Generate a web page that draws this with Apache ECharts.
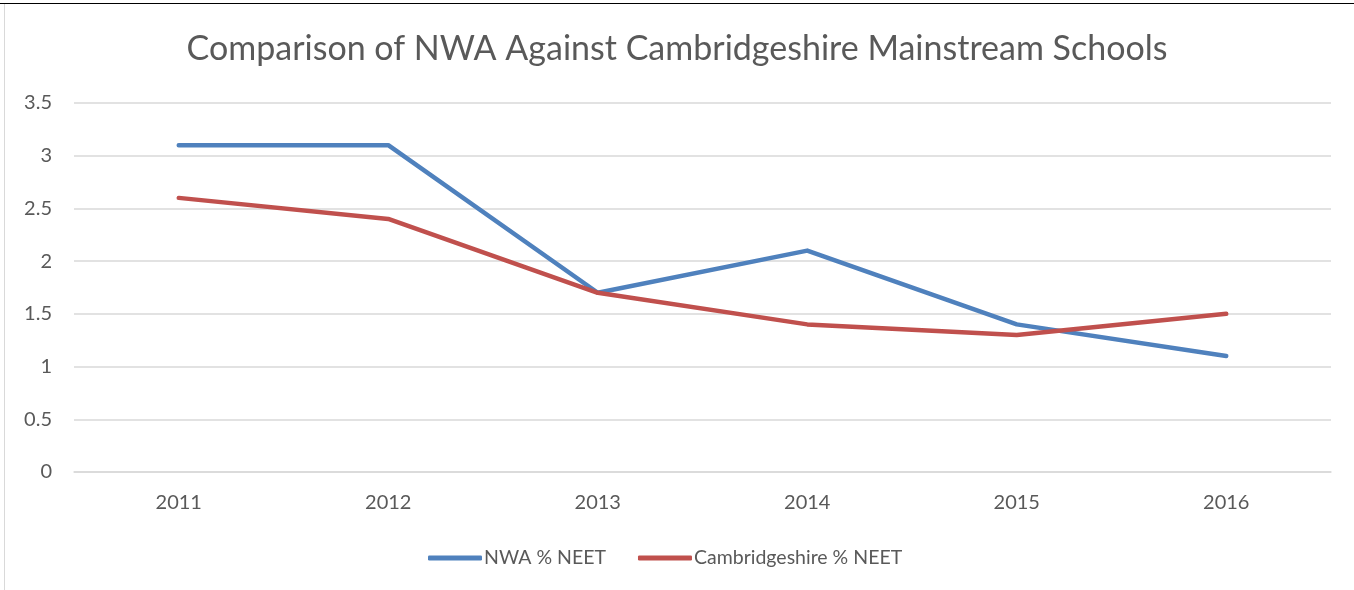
<!DOCTYPE html>
<html><head><meta charset="utf-8">
<script src="https://cdn.jsdelivr.net/npm/echarts@6/dist/echarts.min.js"></script>
<style>
html,body{margin:0;padding:0;background:#fff;}
#topline{position:absolute;left:0;top:3px;width:1354px;height:1px;background:#000;}
#leftline{position:absolute;left:4px;top:4px;width:1px;height:586px;background:#d9d9d9;}
#chart{position:absolute;left:0;top:0;width:1354px;height:590px;}
</style></head>
<body>
<div id="chart"></div>
<div id="topline"></div>
<div id="leftline"></div>
<script>
const categories = ['2011','2012','2013','2014','2015','2016'];
const nwaNeet = [3.1, 3.1, 1.7, 2.1, 1.4, 1.1];
const cambsNeet = [2.6, 2.4, 1.7, 1.4, 1.3, 1.5];
const seriesNames = ['NWA % NEET', 'Cambridgeshire % NEET'];
const titleText = 'Comparison of NWA Against Cambridgeshire Mainstream Schools';

const FONT = 'Lato';
const chart = echarts.init(document.getElementById('chart'), null, {renderer:'canvas'});
chart.setOption({
  animation:false,
  backgroundColor:'#fff',
  title:{text:titleText,left:'center',top:27,
    textStyle:{fontFamily:FONT,fontSize:34,fontWeight:'normal',color:'#595959'}},
  grid:{left:74,right:23,top:103,bottom:118,containLabel:false},
  legend:{bottom:17,left:423,itemWidth:54,itemHeight:5,itemGap:32,
    icon:'roundRect',
    textStyle:{fontFamily:FONT,fontSize:19.5,color:'#595959',padding:[0,0,0,-3]},
    data:seriesNames},
  xAxis:{type:'category',data:categories,boundaryGap:true,
    axisLine:{show:true,lineStyle:{color:'#d9d9d9',width:1.5}},
    axisTick:{show:false},
    axisLabel:{fontFamily:FONT,fontSize:20,color:'#595959',margin:21}},
  yAxis:{type:'value',min:0,max:3.5,interval:0.5,
    axisLine:{show:false},axisTick:{show:false},
    splitLine:{lineStyle:{color:'#d9d9d9',width:1.5}},
    axisLabel:{fontFamily:FONT,fontSize:20,color:'#595959',margin:22}},
  series:[
    {name:seriesNames[0],type:'line',data:nwaNeet,symbol:'none',
      lineStyle:{color:'#4f81bd',width:4.5,cap:'round',join:'round'},itemStyle:{color:'#4f81bd'}},
    {name:seriesNames[1],type:'line',data:cambsNeet,symbol:'none',
      lineStyle:{color:'#c0504d',width:4.5,cap:'round',join:'round'},itemStyle:{color:'#c0504d'}}
  ]
});
</script>
</body></html>
